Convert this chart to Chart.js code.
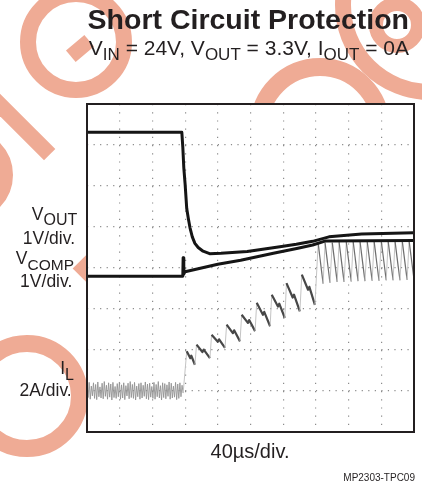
<!DOCTYPE html>
<html>
<head>
<meta charset="utf-8">
<title>Short Circuit Protection</title>
<script src="https://cdn.jsdelivr.net/npm/chart.js@4.4.1/dist/chart.umd.min.js"></script>
<style>
html, body { margin: 0; padding: 0; background: #fff; }
#wrap { position: relative; width: 422px; height: 484px; overflow: hidden;
        font-family: "Liberation Sans", Arial, sans-serif; color: #231f20; }
/* watermark pieces, sit under the canvas */
.ring { position: absolute; box-sizing: border-box; border-radius: 50%;
        border-style: solid; border-color: #efab95; }
.bar { position: absolute; background: #efab95; }
canvas { position: absolute; left: 0; top: 0; }
.t { position: absolute; white-space: nowrap; line-height: 1; }
.s { position: relative; }
</style>
</head>
<body>
<div id="wrap">
  <div class="ring" style="left:20px;top:-14px;width:112px;height:112px;border-width:16px"></div>
  <div class="bar" style="left:68px;top:41px;width:24px;height:15px;transform:rotate(-40deg)"></div>
  <div class="bar" style="left:-34.5px;top:111.5px;width:98px;height:16px;transform:rotate(45deg)"></div>
  <div class="ring" style="left:-79px;top:129px;width:92px;height:92px;border-width:16px"></div>
  <div class="bar" style="left:76.5px;top:257.5px;width:21px;height:21px;transform:rotate(45deg)"></div>
  <div class="ring" style="left:-34px;top:335px;width:122px;height:122px;border-width:17px"></div>
  <div class="ring" style="left:250px;top:58px;width:140px;height:140px;border-width:18px"></div>
  <div class="ring" style="left:335px;top:-90px;width:190px;height:190px;border-width:16px"></div>
  <div class="ring" style="left:369px;top:-3px;width:56px;height:56px;border-width:14px"></div>

  <canvas id="scope" width="422" height="484"></canvas>

  <div class="t" style="right:13px;top:5px;font-size:28.5px;font-weight:bold">Short Circuit Protection</div>
  <div class="t" style="right:13px;top:37px;font-size:21px">V<span class="s" style="font-size:17px;top:4.5px">IN</span> = 24V, V<span class="s" style="font-size:17px;top:4.5px">OUT</span> = 3.3V, I<span class="s" style="font-size:17px;top:4.5px">OUT</span> = 0A</div>

  <div class="t" style="right:344.7px;top:206.2px;font-size:17.5px">V<span class="s" style="font-size:16px;top:5px">OUT</span></div>
  <div class="t" style="right:347px;top:230.2px;font-size:17.5px">1V/div.</div>
  <div class="t" style="right:348px;top:250.2px;font-size:17.5px">V<span class="s" style="font-size:15.5px;top:6px">COMP</span></div>
  <div class="t" style="right:349.7px;top:272.5px;font-size:17.5px">1V/div.</div>
  <div class="t" style="right:348px;top:360.2px;font-size:17.5px">I<span class="s" style="font-size:16px;top:6px">L</span></div>
  <div class="t" style="right:350.3px;top:381.9px;font-size:17.5px">2A/div.</div>

  <div class="t" style="left:250px;top:441px;font-size:20px;transform:translateX(-50%)">40µs/div.</div>
  <div class="t" style="right:7px;top:473.2px;font-size:10px">MP2303-TPC09</div>
</div>

<script>
// screen is 10 x 8 divisions, values below are in divisions
const voutX = [0, 2.90, 2.93, 2.96, 3.00, 3.05, 3.10, 3.15, 3.22, 3.30, 3.40, 3.55, 3.75, 4.1, 4.9, 5.9, 6.4, 6.9, 7.4, 8.4, 10];
const voutY = [7.31, 7.31, 6.95, 6.45, 6.05, 5.45, 5.2, 4.98, 4.76, 4.60, 4.50, 4.41, 4.35, 4.36, 4.40, 4.52, 4.58, 4.65, 4.76, 4.83, 4.86];

const vcompX = [0, 2.93, 2.94, 2.96, 2.98, 3.0, 4.0, 4.7, 5.7, 6.45, 6.9, 7.3, 10];
const vcompY = [3.80, 3.80, 4.25, 3.85, 3.88, 3.91, 4.09, 4.19, 4.36, 4.48, 4.56, 4.66, 4.67];

// inductor current ripple before the short
const ilNoiseEnd = 2.94;
const ilNoise = [
  1.18, 0.84, 1.21, 0.80, 1.12, 0.88, 1.20, 0.82, 1.16, 0.79, 1.22, 0.86, 1.10, 0.83, 1.19, 0.81, 1.23, 0.87, 1.14, 0.80,
  1.20, 0.85, 1.17, 0.78, 1.21, 0.84, 1.11, 0.82, 1.18, 0.86, 1.22, 0.80, 1.15, 0.83, 1.20, 0.79, 1.13, 0.88, 1.19, 0.81,
  1.23, 0.84, 1.16, 0.82, 1.21, 0.78, 1.12, 0.86, 1.18, 0.80, 1.20, 0.83, 1.14, 0.87, 1.22, 0.81, 1.17, 0.79, 1.19, 0.85,
  1.11, 0.82, 1.21, 0.80, 1.16, 0.86, 1.23, 0.83, 1.13, 0.78, 1.20, 0.84, 1.18, 0.81, 1.15, 0.87, 1.22, 0.80, 1.19, 0.83,
  1.12, 0.85, 1.21, 0.79, 1.17, 0.82, 1.20, 0.86, 1.14, 0.95
];

// inductor current after the short: peak, zig, zig, valley per cycle
const ilSwX = [
  2.94, 3.05, 3.16, 3.19, 3.30,
  3.35, 3.53, 3.57, 3.76,
  3.81, 4.00, 4.04, 4.22,
  4.27, 4.46, 4.50, 4.68,
  4.73, 4.92, 4.96, 5.14,
  5.19, 5.38, 5.42, 5.60,
  5.65, 5.84, 5.88, 6.05,
  6.10, 6.29, 6.33, 6.51,
  6.57, 6.76, 6.80, 6.97,
  7.07, 7.22, 7.28, 7.43, 7.50, 7.65, 7.71, 7.86, 7.93, 8.08, 8.14, 8.29, 8.35, 8.50,
  8.57, 8.72, 8.78, 8.93, 9.00, 9.15, 9.21, 9.36, 9.42, 9.57, 9.64, 9.79, 9.85, 10.00
];
const ilSwY = [
  0.95, 1.97, 1.80, 1.86, 1.64,
  2.13, 1.95, 2.01, 1.80,
  2.37, 2.20, 2.26, 2.05,
  2.62, 2.41, 2.48, 2.21,
  2.86, 2.66, 2.73, 2.46,
  3.15, 2.86, 2.93, 2.58,
  3.35, 3.06, 3.13, 2.78,
  3.63, 3.28, 3.35, 2.94,
  3.84, 3.47, 3.54, 3.10,
  4.60, 3.62, 4.62, 3.64, 4.62, 3.66, 4.63, 3.66, 4.63, 3.67, 4.64, 3.68, 4.64, 3.68,
  4.64, 3.69, 4.65, 3.69, 4.65, 3.70, 4.65, 3.70, 4.65, 3.70, 4.66, 3.71, 4.66, 3.72
];

const divsX = 10;
const divsY = 8;
const fastStart = 7.0; // where the ripple gets faster

function pairs(xs, ys) {
  return xs.map((x, i) => ({ x: x, y: ys[i] }));
}

const noiseStep = ilNoiseEnd / (ilNoise.length - 1);
const noisePoints = ilNoise.map((v, i) => ({ x: i * noiseStep, y: v }));

// white screen behind the traces (hides the watermark)
const screenFill = {
  id: 'screenFill',
  beforeDraw(chart) {
    const a = chart.chartArea;
    const c = chart.ctx;
    c.save();
    c.fillStyle = '#fff';
    c.fillRect(a.left, a.top, a.right - a.left, a.bottom - a.top);
    c.restore();
  }
};

const screenFrame = {
  id: 'screenFrame',
  afterDraw(chart) {
    const a = chart.chartArea;
    const c = chart.ctx;
    c.save();
    c.strokeStyle = '#231f20';
    c.lineWidth = 2;
    c.strokeRect(a.left, a.top, a.right - a.left, a.bottom - a.top);
    c.restore();
  }
};

const isRise = s => s.p1.parsed.y - s.p0.parsed.y > 0.2;
const isFast = s => s.p0.parsed.x >= fastStart;

function ilColor(s) {
  if (isRise(s)) return '#c4c4c4';
  return isFast(s) ? '#6e6e6e' : '#474747';
}
function ilWidth(s) {
  if (isRise(s)) return 1;
  return isFast(s) ? 1.2 : 2.2;
}

new Chart(document.getElementById('scope'), {
  type: 'line',
  data: {
    datasets: [
      { label: 'VOUT', data: pairs(voutX, voutY), borderColor: '#151515', borderWidth: 3 },
      { label: 'VCOMP', data: pairs(vcompX, vcompY), borderColor: '#151515', borderWidth: 3 },
      {
        label: 'IL',
        data: pairs(ilSwX, ilSwY),
        borderColor: '#474747',
        borderWidth: 2.2,
        segment: { borderColor: ilColor, borderWidth: ilWidth }
      },
      { label: 'IL ripple', data: noisePoints, borderColor: '#939393', borderWidth: 0.9 }
    ]
  },
  options: {
    responsive: false,
    animation: false,
    layout: { padding: { left: 87, top: 104, right: 8, bottom: 52 } },
    elements: {
      point: { radius: 0 },
      line: { tension: 0, borderJoinStyle: 'round' }
    },
    plugins: {
      legend: { display: false },
      tooltip: { enabled: false }
    },
    scales: {
      x: {
        type: 'linear', min: 0, max: divsX,
        ticks: { display: false, stepSize: 1 },
        grid: { color: '#8c8c8c', lineWidth: 1.2, drawTicks: false },
        border: { display: false, dash: [1.2, 7] }
      },
      y: {
        type: 'linear', min: 0, max: divsY,
        ticks: { display: false, stepSize: 1 },
        grid: { color: '#8c8c8c', lineWidth: 1.2, drawTicks: false },
        border: { display: false, dash: [1.2, 5.34] }
      }
    }
  },
  plugins: [screenFill, screenFrame]
});
</script>
</body>
</html>
